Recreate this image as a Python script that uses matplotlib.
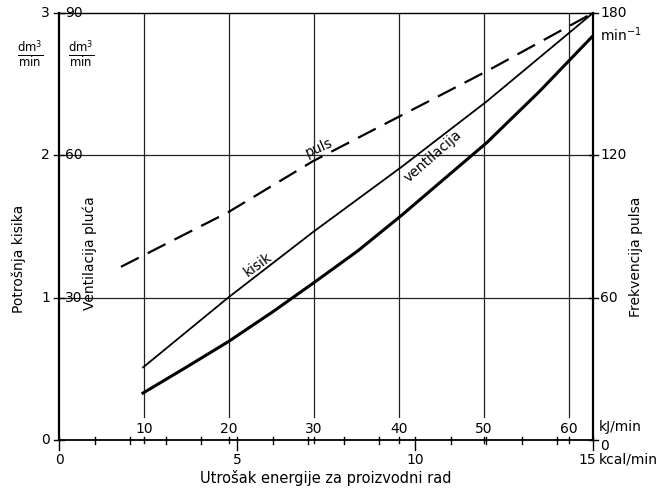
import numpy as np
import matplotlib
matplotlib.use("Agg")
import matplotlib.pyplot as plt

plt.rcParams["font.family"] = ["DejaVu Sans"]

# energy expenditure (kcal/min) and readings
kcal_o2 = [2.36, 4.75, 7.13, 9.63, 12.02, 15.0]
o2 = [0.51, 1.0, 1.46, 1.92, 2.38, 3.0]             # dm3/min

kcal_vent = [2.36, 3.5, 4.75, 6.0, 7.13, 8.4, 9.63, 10.8, 12.02, 13.5, 15.0]
vent = [9.9, 15.0, 20.7, 27.0, 33.0, 39.9, 47.4, 54.9, 62.7, 73.5, 85.2]   # dm3/min

kcal_puls = [1.74, 4.75, 7.13, 12.02, 15.0]
puls = [73, 96, 117.5, 155.5, 180]                  # min^-1

kj_ticks = [10, 20, 30, 40, 50, 60]
kcal_major = [0, 5, 10, 15]
left_o2 = [0, 1, 2, 3]
left_vent = [30, 60, 90]
right_puls = [0, 60, 120, 180]

KJ = 4.1868
fs = 10

fig = plt.figure(figsize=(6.61, 4.94), dpi=100)
ax = fig.add_axes([59 / 661, 54 / 494, (593 - 59) / 661, (440 - 13) / 494])
ax.set_xlim(0, 15.0)
ax.set_ylim(0, 3)
ax.set_xticks([])
ax.set_yticks([])
for s in ax.spines.values():
    s.set_linewidth(1.0)
ax.spines["left"].set_linewidth(1.6)
ax.spines["right"].set_linewidth(1.6)
ax.spines["bottom"].set_linewidth(1.3)

# grid: horizontal at 1 and 2, vertical at kJ steps
for yv in [1, 2]:
    ax.axhline(yv, color="#222222", lw=0.9)
for kj in kj_ticks:
    x = kj / KJ
    ax.plot([x, x], [0.16, 3], color="#222222", lw=0.9)
    ax.text(x, 0.075, str(kj), ha="center", va="center", fontsize=fs)
    ax.plot([x, x], [-0.02, 0.02], color="k", lw=1.0, clip_on=False)

# bottom kcal ticks
for k in range(0, 16):
    h = 0.07 if k in kcal_major else 0.025
    ax.plot([k, k], [-h, 0.02], color="k", lw=1.0, clip_on=False)
for k in kcal_major[:-1]:
    ax.text(k, -0.14, str(k), ha="center", va="center", fontsize=fs)
ax.text(14.85, -0.14, "15", ha="center", va="center", fontsize=fs)
ax.text(15.15, -0.14, "kcal/min", ha="left", va="center", fontsize=fs)
ax.text(15.15, 0.09, "kJ/min", ha="left", va="center", fontsize=fs)

# left axis: oxygen (outside) and ventilation (inside)
for v in left_o2:
    ax.plot([-0.15, 0.15], [v, v], color="k", lw=1.0, clip_on=False)
    ax.text(-0.25, v, str(v), ha="right", va="center", fontsize=fs)
for v in left_vent:
    ax.text(0.17, v / 30, str(v), ha="left", va="center", fontsize=fs)
ax.text(-0.8, 2.71, r"$\frac{\mathrm{dm^3}}{\mathrm{min}}$", ha="center", va="center", fontsize=12)
ax.text(0.62, 2.71, r"$\frac{\mathrm{dm^3}}{\mathrm{min}}$", ha="center", va="center", fontsize=12)
ax.text(-1.12, 1.27, "Potrošnja kisika", rotation=90, ha="center", va="center", fontsize=fs)
ax.text(0.87, 1.31, "Ventilacija pluća", rotation=90, ha="center", va="center", fontsize=fs)

# right axis: pulse
for v in right_puls:
    ax.plot([14.9, 15.15], [v / 60, v / 60], color="k", lw=1.0, clip_on=False)
    ax.text(15.2, v / 60 - (0.04 if v == 0 else 0), str(v), ha="left", va="center", fontsize=fs)
ax.text(15.2, 2.85, "min$^{-1}$", ha="left", va="center", fontsize=fs)
ax.text(16.2, 1.29, "Frekvencija pulsa", rotation=90, ha="center", va="center", fontsize=fs)

ax.text(7.5, -0.27, "Utrošak energije za proizvodni rad", ha="center", va="center",
        fontsize=fs + 0.5, clip_on=False)

# curves
ax.plot(kcal_o2, o2, color="k", lw=1.3)
ax.plot(kcal_vent, np.array(vent) / 30, color="k", lw=2.2, solid_joinstyle="round")
ax.plot(kcal_puls, np.array(puls) / 60, color="k", lw=1.6, dashes=(9, 4.5))

ax.text(7.3, 2.05, "puls", rotation=24, ha="center", va="center", fontsize=fs)
ax.text(5.6, 1.23, "kisik", rotation=36, ha="center", va="center", fontsize=fs)
ax.text(10.5, 1.99, "ventilacija", rotation=41, ha="center", va="center", fontsize=fs)

fig.savefig("out.png", dpi=100)
